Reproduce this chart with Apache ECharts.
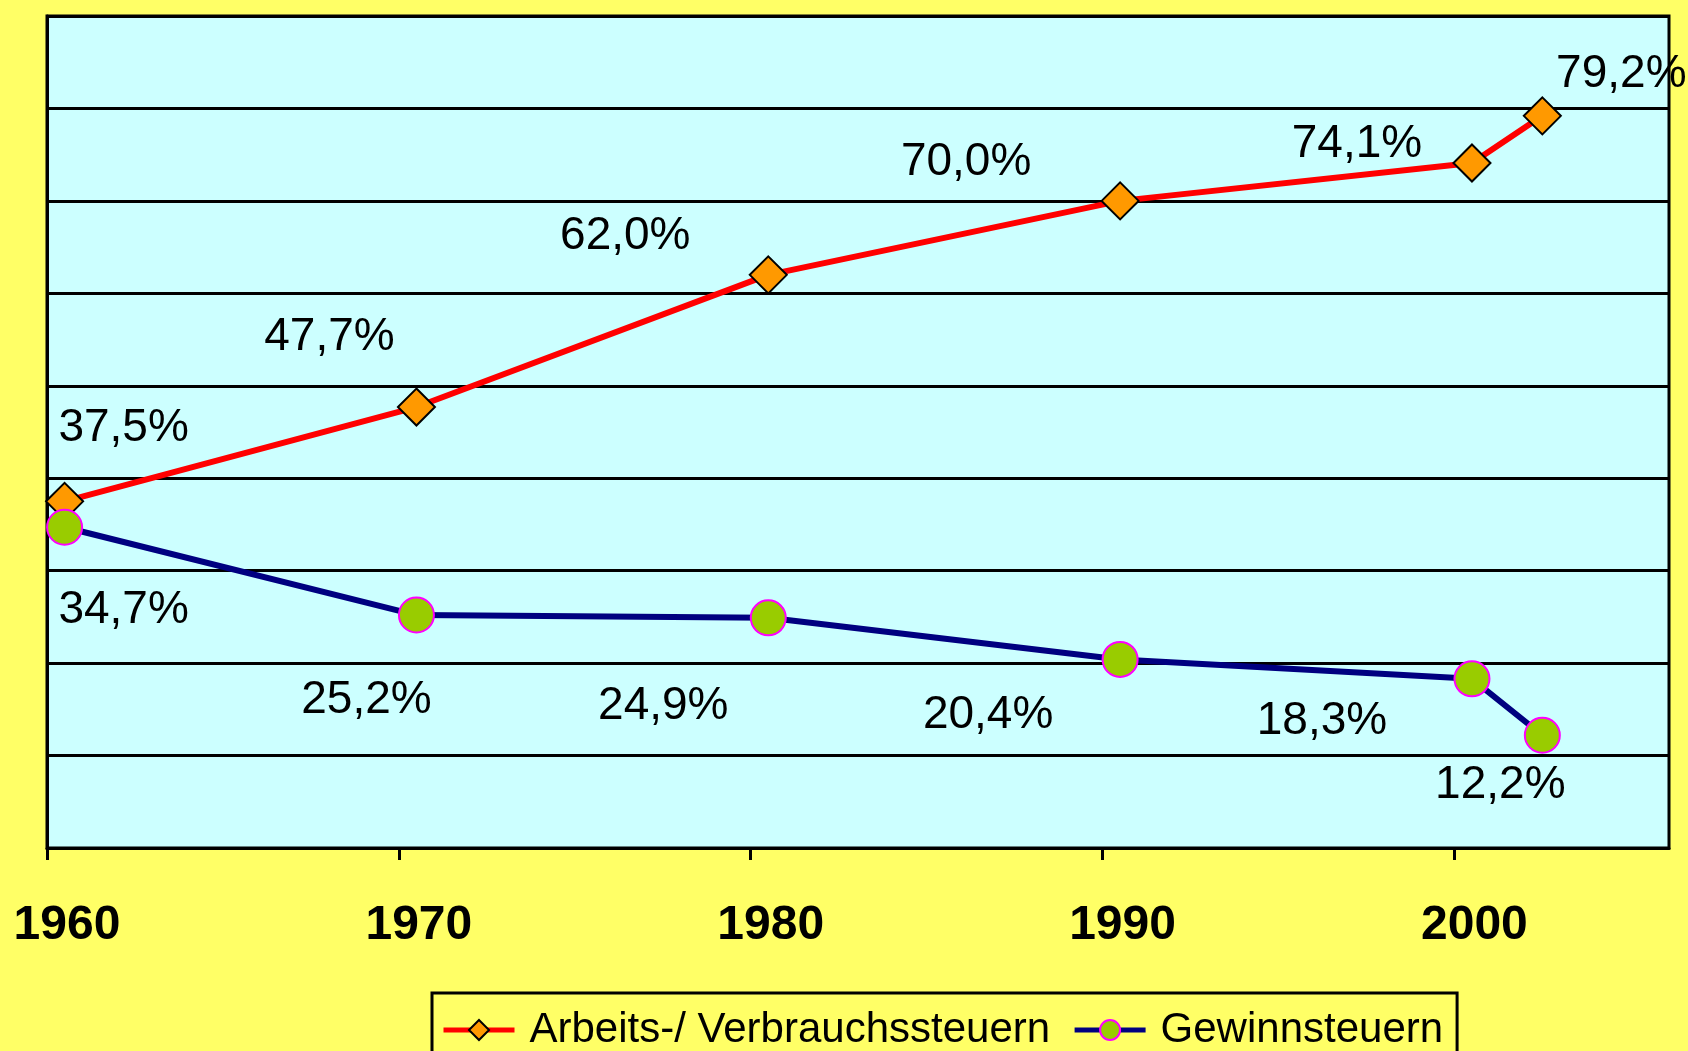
<!DOCTYPE html>
<html>
<head>
<meta charset="utf-8">
<script src="https://cdn.jsdelivr.net/npm/echarts@6/dist/echarts.min.js"></script>
<style>
  html, body { margin: 0; padding: 0; background: #ffff66; }
  #chart { width: 1688px; height: 1051px; }
</style>
</head>
<body>
<div id="chart"></div>
<script>
// years of the data points (Excel puts each point mid-year, hence +0.5 below)
const years = [1960, 1970, 1980, 1990, 2000, 2002]
// Anteil am Steueraufkommen in %
const arbeitData = [37.5, 47.7, 62.0, 70.0, 74.1, 79.2]
const gewinnData = [34.7, 25.2, 24.9, 20.4, 18.3, 12.2]
const tickYears = [1960, 1970, 1980, 1990, 2000]

// label offsets (px) so the labels sit where the original put them
const arbeitLabelOffset = [[59, -73], [-87, -70], [-143, -39], [-154, -39], [-115, -19], [79, -42]]
const gewinnLabelOffset = [[59, 83], [-50, 85], [-105, 88], [-132, 56], [-150, 42], [-42, 50]]

const fmt = p => p.value[1].toFixed(1).replace('.', ',') + '%'

function buildData (vals, offsets) {
  return vals.map((v, i) => ({
    value: [years[i] + 0.5, v],
    label: { offset: offsets[i] }
  }))
}

const chart = echarts.init(document.getElementById('chart'))
const labelStyle = {
  show: true,
  position: 'inside',
  formatter: fmt,
  color: '#000',
  fontFamily: 'Liberation Sans',
  fontSize: 46
}

const options = {
  backgroundColor: '#ffff66',
  animation: false,
  grid: {
    left: 47,
    right: 19,
    top: 16,
    bottom: 203,
    show: true,
    backgroundColor: '#ccffff',
    borderColor: '#000',
    borderWidth: 3
  },
  legend: {
    left: 432,
    top: 993,
    padding: [16, 14, 40, 9],
    backgroundColor: '#ffff66',
    borderColor: '#000',
    borderWidth: 3,
    itemWidth: 71,
    itemHeight: 25,
    itemGap: 22,
    lineStyle: { width: 5 },
    textStyle: {
      color: '#000',
      fontFamily: 'Liberation Sans',
      fontSize: 42,
      padding: [0, 0, 0, 10]
    },
    data: ['Arbeits-/ Verbrauchssteuern', 'Gewinnsteuern']
  },
  xAxis: {
    type: 'value',
    min: 1960,
    max: 2006.1,
    interval: 10,
    splitLine: { show: false },
    axisLine: { show: true, lineStyle: { color: '#000', width: 3 } },
    axisTick: {
      show: true,
      customValues: tickYears,
      length: 12,
      lineStyle: { color: '#000', width: 3 }
    },
    axisLabel: {
      customValues: tickYears,
      formatter: v => String(v),
      margin: 54,
      padding: [0, 0, 0, 40],
      color: '#000',
      fontFamily: 'Liberation Sans',
      fontWeight: 'bold',
      fontSize: 48
    }
  },
  yAxis: {
    type: 'value',
    min: 0,
    max: 90,
    interval: 10,
    axisLabel: { show: false },
    axisTick: { show: false },
    axisLine: { show: true, lineStyle: { color: '#000', width: 3 } },
    splitLine: { show: true, lineStyle: { color: '#000', width: 3 } }
  },
  series: [
    {
      name: 'Arbeits-/ Verbrauchssteuern',
      type: 'line',
      clip: false,
      symbol: 'diamond',
      symbolSize: 37,
      lineStyle: { color: '#ff0000', width: 6 },
      itemStyle: { color: '#ff9900', borderColor: '#000', borderWidth: 2 },
      label: labelStyle,
      data: buildData(arbeitData, arbeitLabelOffset)
    },
    {
      name: 'Gewinnsteuern',
      type: 'line',
      clip: false,
      symbol: 'circle',
      symbolSize: 35,
      lineStyle: { color: '#000080', width: 6 },
      itemStyle: { color: '#99cc00', borderColor: '#ff00ff', borderWidth: 2 },
      label: labelStyle,
      data: buildData(gewinnData, gewinnLabelOffset)
    }
  ]
}
chart.setOption(options)
</script>
</body>
</html>
